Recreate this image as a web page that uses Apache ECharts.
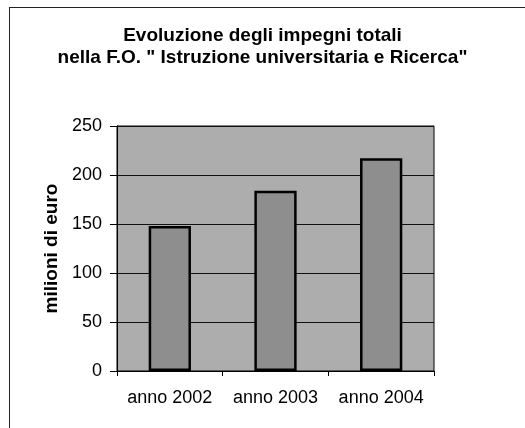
<!DOCTYPE html>
<html>
<head>
<meta charset="utf-8">
<script src="https://cdn.jsdelivr.net/npm/echarts@6/dist/echarts.min.js"></script>
<style>
  html, body { margin: 0; padding: 0; background: #fff; }
  #chart { width: 525px; height: 428px; }
</style>
</head>
<body>
<div id="chart"></div>
<script>
// dati
const anni = ['anno 2002', 'anno 2003', 'anno 2004'];
const impegni = [148, 184, 217];
const yMin = 0, yMax = 250, yStep = 50;

const font = 'Liberation Sans, Arial, sans-serif';

let chart = echarts.init(document.getElementById('chart'));
const option = {
  animation: false,
  title: {
    text: 'Evoluzione degli impegni totali\nnella F.O. " Istruzione universitaria e Ricerca"',
    left: 'center',
    top: 20,
    textStyle: {
      fontFamily: font,
      fontSize: 19,
      fontWeight: 'bold',
      color: '#000',
      lineHeight: 22
    }
  },
  grid: {
    left: 117,
    right: 91,
    top: 126,
    bottom: 57,
    show: true,
    backgroundColor: '#adadad',
    borderColor: '#000',
    borderWidth: 1
  },
  xAxis: {
    type: 'category',
    data: anni,
    axisLine: { lineStyle: { color: '#000', width: 1 } },
    axisTick: { show: true, length: 5, lineStyle: { color: '#000' } },
    axisLabel: { fontFamily: font, fontSize: 18, color: '#000', margin: 18, interval: 0, hideOverlap: false }
  },
  yAxis: {
    type: 'value',
    min: yMin,
    max: yMax,
    interval: yStep,
    name: 'milioni di euro',
    nameLocation: 'middle',
    nameGap: 55,
    nameTextStyle: { fontFamily: font, fontSize: 19, fontWeight: 'bold', color: '#000' },
    axisLine: { show: true, lineStyle: { color: '#000' } },
    axisTick: { show: true, length: 7, lineStyle: { color: '#000' } },
    axisLabel: { fontFamily: font, fontSize: 18, color: '#000', margin: 15 },
    splitLine: { lineStyle: { color: '#111', width: 1 } }
  },
  series: [{
    type: 'bar',
    data: impegni,
    barWidth: '40%',
    itemStyle: { color: '#8e8e8e', borderColor: '#000', borderWidth: 2.5 }
  }],
  graphic: [
    { type: 'line', shape: { x1: 9.5, y1: 7, x2: 9.5, y2: 428 }, style: { stroke: '#222', lineWidth: 1 } },
    { type: 'line', shape: { x1: 9, y1: 7.5, x2: 525, y2: 7.5 }, style: { stroke: '#222', lineWidth: 1 } }
  ]
};
chart.setOption(option);
</script>
</body>
</html>
